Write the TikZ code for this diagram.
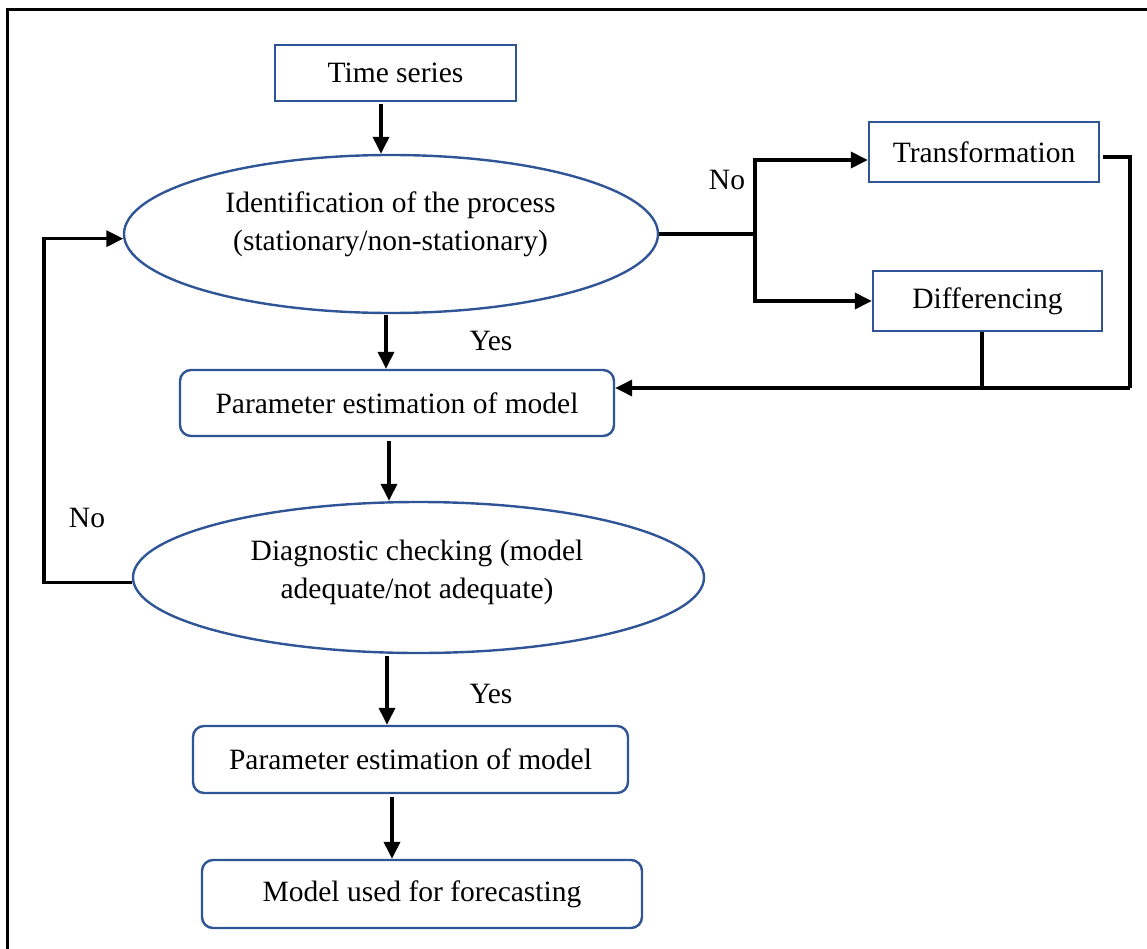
\documentclass[tikz,border=0pt]{standalone}
\usepackage{fontspec}
\setmainfont{Liberation Serif}
\usetikzlibrary{arrows.meta,shapes.geometric}
\definecolor{bl}{RGB}{47,85,151}
\begin{document}
\begin{tikzpicture}[x=1pt,y=-1pt,
  txt/.style={font=\fontsize{29.5}{38}\selectfont, align=center, inner sep=0pt},
  sqbox/.style={draw=bl, line width=2.4pt, inner sep=0pt, txt},
  rbox/.style={sqbox, rounded corners=11pt},
  ell/.style={ellipse, draw=bl, line width=2.4pt, inner sep=0pt},
  conn/.style={line width=3.5pt, draw=black},
  arr/.style={conn, -{Triangle[length=17pt,width=16pt]}}]
\useasboundingbox (0,0) rectangle (1147,949);
\draw[line width=3pt] (7,949) -- (7,10) -- (1147,10);

% nodes
\node[sqbox, minimum width=241pt, minimum height=56pt] (ts) at (395.5,73) {Time series};
\node[ell, minimum width=534pt, minimum height=158pt] (e1) at (391,234) {};
\node[txt] (e1t) at (390.5,224) {Identification of the process\\(stationary/non-stationary)};
\node[rbox, minimum width=434pt, minimum height=66pt] (p1) at (397,403) {Parameter estimation of model};
\node[ell, minimum width=571pt, minimum height=151pt] (e2) at (418.5,577.5) {};
\node[txt] (e2t) at (417,572) {Diagnostic checking (model\\adequate/not adequate)};
\node[rbox, minimum width=435pt, minimum height=67pt] (p2) at (410.5,759.5) {Parameter estimation of model};
\node[rbox, minimum width=440pt, minimum height=68pt] (m) at (422,894) {Model used for forecasting};
\node[sqbox, minimum width=230pt, minimum height=60pt] (tr) at (984,152) {Transformation};
\node[sqbox, minimum width=229pt, minimum height=60pt] (df) at (987.5,301) {Differencing};

% labels
\node[txt] (no1) at (727,180) {No};
\node[txt] (yes1) at (491,341) {Yes};
\node[txt] (no2) at (87,518) {No};
\node[txt] (yes2) at (491,694) {Yes};

% coordinates
\coordinate (lx) at (44,0);
\coordinate (rx) at (755,0);
\coordinate (rr) at (1130,388);
\coordinate (dj) at (982,388);

% vertical flow
\draw[arr] ([yshift=-2pt]ts.south -| 381,0) -- (e1.north -| 381,0);
\draw[arr] ([yshift=-1pt]e1.south -| 386,0) -- (p1.north -| 386,0);
\draw[arr] ([yshift=-4pt]p1.south -| 389,0) -- (e2.north -| 389,0);
\draw[arr] ([yshift=-2pt]e2.south -| 387,0) -- (p2.north -| 387,0);
\draw[arr] ([yshift=-3pt]p2.south -| 392,0) -- (m.north -| 392,0);

% left loop
\draw[arr] (e2.181.1) -- (e2.181.1 -| lx) -- (e1.181.7 -| lx) -- (e1.181.7);

% right branch
\draw[arr] (e1.east) -- (e1.east -| rx) |- ([yshift=-8pt]tr.west);
\draw[arr] (e1.east -| rx) |- (df.west);

% return
\draw[conn] ([xshift=3pt,yshift=-5pt]tr.east) -- ([yshift=-5pt]tr.east -| rr) -- (rr);
\draw[conn] (df.south -| dj) -- (dj);
\draw[arr] (rr) -- (rr -| p1.east);
\end{tikzpicture}
\end{document}
